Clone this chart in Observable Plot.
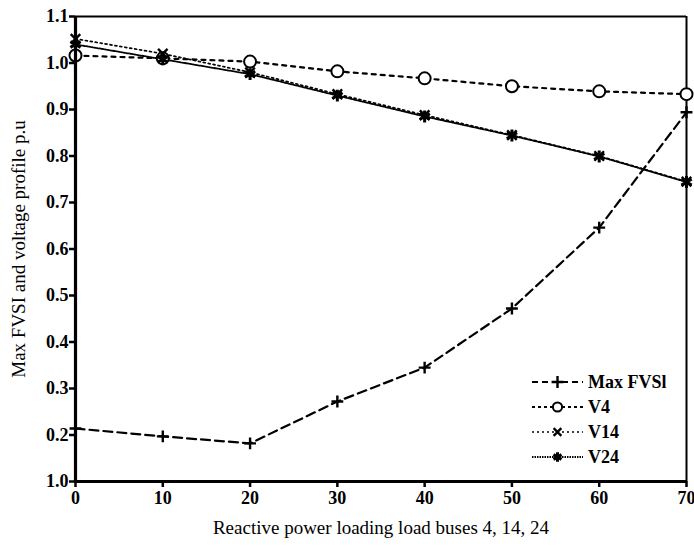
<!DOCTYPE html>
<html><head><meta charset="utf-8">
<script src="https://cdn.jsdelivr.net/npm/d3@7"></script>
<script src="https://cdn.jsdelivr.net/npm/@observablehq/plot@0.6"></script>
<style>body{margin:0;background:#fff}#chart svg{display:block}</style>
</head><body><div id="chart"></div>
<script>
// ---- data ----
const loading = [0, 10, 20, 30, 40, 50, 60, 70];
const maxFVSI = [0.214, 0.197, 0.182, 0.272, 0.345, 0.472, 0.646, 0.894];
const v4  = [1.016, 1.010, 1.003, 0.982, 0.967, 0.950, 0.939, 0.933];
const v14 = [1.052, 1.020, 0.980, 0.933, 0.888, 0.845, 0.800, 0.745];
const v24 = [1.040, 1.008, 0.976, 0.930, 0.885, 0.844, 0.799, 0.744];
const seriesNames = ["Max FVSl", "V4", "V14", "V24"];
const xTicks = [0, 10, 20, 30, 40, 50, 60, 70];
const yTicks = [0.1, 0.2, 0.3, 0.4, 0.5, 0.6, 0.7, 0.8, 0.9, 1.0, 1.1];
const yTickLabels = ["1.0", "0.2", "0.3", "0.4", "0.5", "0.6", "0.7", "0.8", "0.9", "1.0", "1.1"];
const xTitle = "Reactive power loading load buses 4, 14, 24";
const yTitle = "Max FVSI and voltage profile p.u";

// ---- styles ----
const seriesValues = [maxFVSI, v4, v14, v24];
const styles = [
  {dash: "9,5", ldash: "6,4", sw: 2.2, symbol: "plus", r: 3.9, lr: 3.9, msw: 2.4, fill: "none"},
  {dash: "4,5", ldash: "3,3", sw: 2.2, symbol: "circle", r: 6, lr: 4.6, msw: 2, fill: "white"},
  {dash: "2,3", ldash: "2,3", sw: 1.7, symbol: "times", r: 4.4, lr: 3.6, msw: 2.4, fill: "none"},
  {dash: "1.5,1.2", ldash: "1.5,1", sw: 1.8, symbol: "asterisk", r: 5.6, lr: 4.4, msw: 3, fill: "none"}
];
const rows = seriesNames.flatMap((s, k) => loading.map((x, i) => ({series: s, x, y: seriesValues[k][i]})));

const font = "'Liberation Serif', 'Times New Roman', serif";
const fmtY = d => yTickLabels[yTicks.findIndex(t => Math.abs(t - d) < 1e-9)];

const marks = [];
seriesNames.forEach((s, k) => {
  const st = styles[k];
  marks.push(Plot.line(rows.filter(r => r.series === s), {x: "x", y: "y", stroke: "black", strokeWidth: st.sw, strokeDasharray: st.dash}));
});
seriesNames.forEach((s, k) => {
  const st = styles[k];
  marks.push(Plot.dot(rows.filter(r => r.series === s), {x: "x", y: "y", symbol: () => st.symbol, r: st.r, stroke: "black", strokeWidth: st.msw, fill: st.fill}));
});

const plot = Plot.plot({
  width: 694, height: 547,
  marginLeft: 75, marginRight: 8, marginTop: 16, marginBottom: 66,
  style: {fontFamily: font, fontSize: "18px", color: "black", background: "white"},
  x: {domain: [0, 70], label: null},
  y: {domain: [0.1, 1.1], label: null},
  symbol: {type: "identity"},
  marks: [
    Plot.ruleY([1.1], {stroke: "black", strokeWidth: 2}),
    Plot.ruleX([70], {stroke: "black", strokeWidth: 2}),
    Plot.axisX({ticks: xTicks, tickSize: 6, tickPadding: 4, strokeWidth: 2.5, fontWeight: "bold", fontSize: 18, label: null}),
    Plot.axisY({ticks: yTicks, tickFormat: fmtY, tickSize: 6, tickPadding: 1, strokeWidth: 2.5, fontWeight: "bold", fontSize: 18, label: null}),
    ...marks,
    Plot.ruleX([0], {stroke: "black", strokeWidth: 3.2}),
    Plot.ruleY([0.1], {stroke: "black", strokeWidth: 3.2}),
    Plot.text([xTitle], {frameAnchor: "bottom", dy: 52, fontSize: 19, textAnchor: "middle", text: d => d}),
    Plot.text([yTitle], {frameAnchor: "left", dx: -57, rotate: -90, fontSize: 19, textAnchor: "middle", text: d => d})
  ]
});
document.getElementById("chart").append(plot);

// ---- legend inside the plot frame, bottom right ----
const svg = d3.select(plot);
const xs = plot.scale("x"), ys = plot.scale("y");
const frameRight = xs.apply(70), frameBottom = ys.apply(0.1);
const lx0 = frameRight - 154, lx1 = frameRight - 103, tx = frameRight - 98;
const g = svg.append("g").attr("font-family", font).attr("font-size", 18).attr("font-weight", "bold").attr("text-anchor", "start");
seriesNames.forEach((s, k) => {
  const st = styles[k];
  const yy = frameBottom - 99 + k * 25;
  g.append("line").attr("x1", lx0).attr("x2", lx1).attr("y1", yy).attr("y2", yy)
    .attr("stroke", "black").attr("stroke-width", st.sw).attr("stroke-dasharray", st.ldash);
  const sym = {plus: d3.symbolPlus, circle: d3.symbolCircle, times: d3.symbolTimes, asterisk: d3.symbolAsterisk}[st.symbol];
  g.append("path").attr("d", d3.symbol(sym, Math.PI * st.lr * st.lr)())
    .attr("transform", `translate(${(lx0 + lx1) / 2},${yy})`)
    .attr("stroke", "black").attr("stroke-width", st.msw).attr("fill", st.fill);
  g.append("text").attr("x", tx).attr("y", yy).attr("dy", "0.35em").attr("text-anchor", "start").text(s);
});
</script>
</body></html>
